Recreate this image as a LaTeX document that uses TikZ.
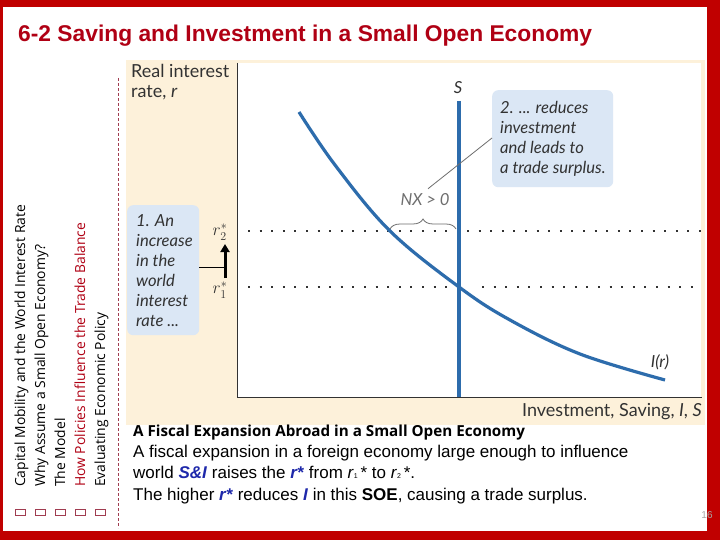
\documentclass[tikz,border=0pt]{standalone}
\usepackage{fontspec}
\setmainfont{Liberation Sans}
\newfontfamily\figfont{Lato}
\newfontfamily\sidefont{Open Sans}
\newfontfamily\headfont{Open Sans}
\usetikzlibrary{decorations.pathreplacing,arrows.meta}
\definecolor{framered}{RGB}{192,0,0}
\definecolor{titlered}{RGB}{176,0,20}
\definecolor{beige}{RGB}{253,241,218}
\definecolor{curveblue}{RGB}{45,108,172}
\definecolor{boxblue}{RGB}{219,231,245}
\definecolor{figtext}{RGB}{50,50,50}
\definecolor{emblue}{RGB}{30,40,170}
\definecolor{bracegray}{RGB}{110,110,110}
\definecolor{dashred}{RGB}{160,60,80}
\tikzset{
  fig/.style={font=\figfont\fontsize{18}{20}\selectfont, text=figtext, inner sep=0pt},
  figit/.style={font=\figfont\itshape\fontsize{16.6}{20}\selectfont, text=figtext, inner sep=0pt, align=left},
  callout/.style={fill=boxblue, rounded corners=6pt},
  dotline/.style={line width=2pt, dash pattern=on 2pt off 9.6pt, figtext},
  side/.style={font=\sidefont\fontsize{13.9}{16}\selectfont, rotate=90, anchor=base west, inner sep=0pt},
  tofu/.style={draw=dashred, line width=0.7pt, minimum width=10pt, minimum height=6pt, inner sep=0pt},
  body/.style={font=\fontsize{17}{21}\selectfont, anchor=base west, inner sep=0pt},
  curve/.style={curveblue, line width=3.2pt},
}
\begin{document}
\begin{tikzpicture}[x=1pt,y=-1pt]
\useasboundingbox (0,0) rectangle (720,540);
\fill[framered] (0,0) rectangle (720,540);
\fill[white] (2.5,7) rectangle (707,531);
% title
\node[anchor=base west, inner sep=0pt, text=titlered, font=\bfseries\fontsize{22.8}{26}\selectfont] (title) at (18,42) {6-2 Saving and Investment in a Small Open Economy};
% sidebar
\draw[dashred, line width=0.8pt, dash pattern=on 3pt off 2pt] (118,78) -- (118,528);
\node[side] (s1) at (25,487) {Capital Mobility and the World Interest Rate};
\node[side] (s2) at (45,487) {Why Assume a Small Open Economy?};
\node[side] (s3) at (65,487) {The Model};
\node[side, text=titlered] (s4) at (85,487) {How Policies Influence the Trade Balance};
\node[side] (s5) at (105,487) {Evaluating Economic Policy};
\foreach \i/\x in {1/20,2/40,3/60,4/80,5/100} \node[tofu] (b\i) at (\x,512) {};
% figure panel
\fill[beige] (126,60) rectangle (705,425);
\fill[white] (237,63) rectangle (701,397);
\draw[figtext, line width=1pt] (237,63) -- (237,397) -- (702,397);
\node[fig, anchor=north west, align=left] (ylab) at (131,64) {Real interest\\rate, \textit{r}};
\node[fig, anchor=base east] (xlab) at (702,416) {Investment, Saving, \textit{I}, \textit{S}};
% dotted lines
\draw[dotline] (248,231) -- (453,231);
\draw[dotline] (467,231) -- (702,231);
\draw[dotline] (248,287) -- (456,287);
\draw[dotline] (482,287) -- (702,287);
% S line and I curve
\draw[curve] (459,101) -- (459,397);
\node[figit] (Slab) at (458,88) {S};
\draw[curve] plot[smooth, tension=0.6] coordinates {(299,112) (335,165) (390,231) (459,287) (510,320) (580,354) (665,380)};
\node[figit] (Ilab) at (660,362) {I(r)};
% brace and NX
\draw[bracegray, line width=0.8pt, decorate, decoration={brace, amplitude=10pt}] (390,229) -- (456,229);
\node[figit, text=bracegray] (nx) at (425,200) {NX > 0};
% callout 2
\node[callout, minimum width=121pt, minimum height=97pt, anchor=north west, inner sep=0pt] (c2) at (492,90) {};
\node[figit, anchor=north west] (c2t) at (500,101) {2. ... reduces\\investment\\and leads to\\a trade surplus.};
\draw[bracegray, line width=0.8pt] (nx.north) ++(3,-5) coordinate (nxp) -- (c2.west |- 0,138);
% callout 1
\node[callout, minimum width=72pt, minimum height=130pt, anchor=north west, inner sep=0pt] (c1) at (127,205) {};
\node[figit, anchor=north west] (c1t) at (136,214) {1. An\\increase\\in the\\world\\interest\\rate ...};
\coordinate (arrbot) at (225,278);
\coordinate (arrtop) at (225,244);
\draw[black, line width=3pt, -{Triangle[width=9pt,length=8pt]}] (arrbot) -- (arrtop);
\draw[black, line width=1pt] (c1.east |- 0,267) -- (arrbot |- 0,267);
\node[fig, font=\fontsize{17}{20}\selectfont] (r2) at (220,232) {$r^{*}_{2}$};
\node[fig, font=\fontsize{17}{20}\selectfont] (r1) at (220,290) {$r^{*}_{1}$};
% bottom text
\node[anchor=base west, inner sep=0pt, font=\headfont\bfseries\fontsize{15.2}{18}\selectfont] (h) at (133,436) {A Fiscal Expansion Abroad in a Small Open Economy};
\node[body] (l1) at (133,457) {A fiscal expansion in a foreign economy large enough to influence};
\node[body] (l2) at (133,478) {world \textcolor{emblue}{\textbf{\textit{S\&I}}} raises the \textcolor{emblue}{\textbf{\textit{r*}}} from \textit{r}{\fontsize{7}{7}\selectfont 1}\,* to \textit{r}{\fontsize{7}{7}\selectfont 2}\,*.};
\node[body] (l3) at (133,500) {The higher \textcolor{emblue}{\textbf{\textit{r*}}} reduces \textcolor{emblue}{\textbf{\textit{I}}} in this \textbf{SOE}, causing a trade surplus.};
\node[inner sep=0pt, text=gray!70, font=\fontsize{10}{12}\selectfont] (pg) at (707,515) {16};
\end{tikzpicture}
\end{document}
